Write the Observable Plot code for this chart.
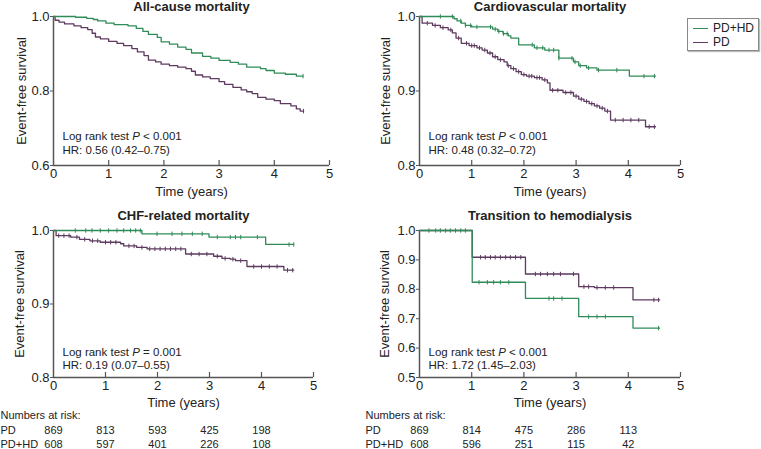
<!DOCTYPE html>
<html><head><meta charset="utf-8">
<script src="https://cdn.jsdelivr.net/npm/d3@7"></script>
<script src="https://cdn.jsdelivr.net/npm/@observablehq/plot@0.6"></script>
<style>
body{margin:0;background:#fff;font-family:"Liberation Sans",Arial,sans-serif;}
#wrap{position:relative;width:761px;height:449px;overflow:hidden;background:#fff;}
.panel{position:absolute;}
#legend{position:absolute;left:687px;top:18px;width:70px;height:31px;border:1px solid #888;box-shadow:1px 1px 1px #bbb;background:#fff;font-size:12px;color:#222;}
#legend .item{position:absolute;left:5px;height:14px;line-height:14px;}
#legend .sw{position:absolute;left:0;top:7px;width:15px;height:0;border-top:1.3px solid;}
#legend .lb{position:absolute;left:20px;top:0;white-space:nowrap;}
</style></head><body><div id="wrap"></div>
<script>
// ---------------- data ----------------
const xTicks = [0, 1, 2, 3, 4, 5];
const riskTimes = [0, 1, 2, 3, 4];
const seriesNames = ["PD+HD", "PD"];

// All-cause mortality
const acGreenT = [0, 0.4, 0.6, 0.72, 0.8, 0.95, 1.1, 1.35, 1.5, 1.62, 1.72, 1.88, 1.95, 2.1, 2.25, 2.4, 2.5, 2.7, 2.85, 3.0, 3.2, 3.35, 3.5, 3.75, 3.85, 4.0, 4.2, 4.4, 4.52];
const acGreenS = [1.0, 0.998, 0.995, 0.992, 0.988, 0.982, 0.978, 0.975, 0.968, 0.96, 0.952, 0.944, 0.932, 0.926, 0.918, 0.912, 0.902, 0.893, 0.888, 0.882, 0.877, 0.872, 0.864, 0.86, 0.855, 0.848, 0.845, 0.84, 0.84];
const acGreenC = [4.52];
const acPurpleT = [0, 0.03, 0.1, 0.2, 0.37, 0.5, 0.62, 0.7, 0.76, 0.85, 1.0, 1.15, 1.27, 1.42, 1.52, 1.64, 1.72, 1.85, 1.95, 2.1, 2.25, 2.4, 2.5, 2.57, 2.7, 2.84, 3.0, 3.1, 3.25, 3.4, 3.5, 3.6, 3.7, 3.85, 4.0, 4.11, 4.3, 4.4, 4.47, 4.53];
const acPurpleS = [1.0, 0.99, 0.985, 0.98, 0.975, 0.97, 0.965, 0.955, 0.945, 0.94, 0.933, 0.928, 0.922, 0.914, 0.905, 0.895, 0.883, 0.878, 0.872, 0.868, 0.864, 0.86, 0.853, 0.843, 0.838, 0.833, 0.825, 0.818, 0.81, 0.803, 0.798, 0.793, 0.783, 0.778, 0.774, 0.766, 0.76, 0.752, 0.746, 0.746];
const acPurpleC = [4.53];

// Cardiovascular mortality
const cvGreenT = [0, 0.66, 0.72, 0.8, 0.88, 1.0, 1.4, 1.5, 1.6, 1.7, 1.75, 1.9, 2.2, 2.4, 2.67, 2.95, 3.05, 3.2, 3.4, 4.02, 4.52];
const cvGreenS = [1.0, 0.997, 0.994, 0.991, 0.988, 0.986, 0.983, 0.98, 0.977, 0.974, 0.971, 0.962, 0.958, 0.955, 0.944, 0.939, 0.934, 0.931, 0.928, 0.92, 0.92];
const cvGreenC = [0.4, 0.63, 0.79, 0.88, 0.98, 1.1, 1.36, 1.45, 1.52, 1.61, 1.68, 2.16, 2.25, 2.36, 2.48, 2.57, 2.67, 2.92, 2.98, 3.08, 3.24, 3.43, 3.78, 4.3, 4.5];
const cvPurpleT = [0, 0.05, 0.25, 0.4, 0.55, 0.63, 0.7, 0.8, 0.95, 1.1, 1.2, 1.3, 1.4, 1.5, 1.62, 1.68, 1.75, 1.85, 1.95, 2.05, 2.2, 2.35, 2.45, 2.5, 2.75, 2.95, 3.05, 3.15, 3.25, 3.35, 3.45, 3.55, 3.66, 4.33, 4.52];
const cvPurpleS = [1.0, 0.991, 0.988, 0.985, 0.982, 0.978, 0.971, 0.964, 0.961, 0.958, 0.955, 0.951, 0.946, 0.942, 0.939, 0.934, 0.93, 0.926, 0.922, 0.92, 0.918, 0.915, 0.911, 0.901, 0.898, 0.893, 0.889, 0.886, 0.883, 0.88, 0.877, 0.873, 0.861, 0.852, 0.852];
const cvPurpleC = [0.15, 0.3, 0.45, 0.6, 0.75, 0.9, 1.0, 1.05, 1.15, 1.25, 1.35, 1.45, 1.55, 1.7, 1.8, 1.9, 2.0, 2.1, 2.15, 2.25, 2.3, 2.4, 2.55, 2.65, 2.8, 2.9, 3.0, 3.1, 3.2, 3.3, 3.4, 3.5, 3.6, 3.75, 3.9, 4.05, 4.2, 4.4, 4.5];

// CHF-related mortality
const chfGreenT = [0, 1.7, 2.99, 4.08, 4.62];
const chfGreenS = [1.0, 0.9955, 0.991, 0.981, 0.981];
const chfGreenC = [0.42, 0.62, 0.74, 0.9, 1.06, 1.22, 1.35, 1.48, 1.58, 1.67, 1.99, 2.28, 2.47, 2.67, 2.86, 3.15, 3.4, 3.5, 3.6, 3.92, 4.53, 4.62];
const chfPurpleT = [0, 0.05, 0.33, 0.5, 0.7, 0.9, 1.29, 1.35, 1.6, 1.8, 2.54, 3.08, 3.24, 3.4, 3.5, 3.72, 4.43, 4.62];
const chfPurpleS = [1.0, 0.993, 0.991, 0.988, 0.986, 0.984, 0.982, 0.979, 0.977, 0.975, 0.968, 0.965, 0.962, 0.961, 0.959, 0.951, 0.946, 0.946];
const chfPurpleC = [0.1, 0.2, 0.3, 0.45, 0.6, 0.75, 0.85, 1.0, 1.1, 1.2, 1.45, 1.55, 1.7, 1.85, 1.95, 2.05, 2.15, 2.25, 2.35, 2.45, 2.65, 2.8, 2.95, 3.15, 3.3, 3.45, 3.6, 3.85, 4.0, 4.15, 4.3, 4.5, 4.6];

// Transition to hemodialysis
const hdGreenT = [0, 1.01, 2.03, 3.05, 4.09, 4.6];
const hdGreenS = [1.0, 0.824, 0.769, 0.707, 0.668, 0.668];
const hdGreenC = [0.18, 0.31, 0.4, 0.5, 0.59, 0.69, 0.79, 0.88, 1.14, 1.3, 1.42, 1.55, 1.71, 2.48, 2.57, 2.73, 3.24, 3.4, 3.56, 4.58];
const hdPurpleT = [0, 1.01, 2.03, 3.05, 3.35, 4.09, 4.6];
const hdPurpleS = [1.0, 0.909, 0.852, 0.809, 0.806, 0.764, 0.764];
const hdPurpleC = [1.17, 1.26, 1.36, 1.45, 1.55, 1.65, 1.74, 1.84, 1.94, 2.22, 2.32, 2.45, 2.57, 2.7, 2.95, 3.15, 3.24, 3.4, 3.56, 3.72, 4.49, 4.58];

// Numbers at risk
const riskPD_left = [869, 813, 593, 425, 198];
const riskPDHD_left = [608, 597, 401, 226, 108];
const riskPD_right = [869, 814, 475, 286, 113];
const riskPDHD_right = [608, 596, 251, 115, 42];

// ---------------- drawing ----------------
const GREEN = "#2f8c58", PURPLE = "#5e3a60", AXIS = "#555", TEXTC = "#222";
const FONT = '"Liberation Sans", Arial, sans-serif';

function steps(t, s) { return t.map((d, i) => ({t: d, s: s[i]})); }
function survAt(t, s, x) { let v = s[0]; for (let i = 0; i < t.length; i++) { if (t[i] <= x) v = s[i]; else break; } return v; }
function censorPts(t, s, c) { return c.map(x => ({t: x, s: survAt(t, s, x)})); }
const tickSym = { draw(ctx, size) { const r = Math.sqrt(size / Math.PI); ctx.moveTo(0, -r); ctx.lineTo(0, r); } };

function panel(cfg) {
  const iH = cfg.height - cfg.mT - cfg.mB;
  const T = (txt, o) => Plot.text([txt], {lineAnchor: "middle", fill: TEXTC, ...o});
  const marks = [
    Plot.ruleX([0], {stroke: AXIS, strokeWidth: 1.5}),
    Plot.ruleY([cfg.yDomain[0]], {stroke: AXIS, strokeWidth: 1.5}),
    Plot.ruleX(xTicks.slice(1), {x: d => d, stroke: AXIS, strokeWidth: 1.2, insetTop: iH - 5}),
    Plot.axisX(xTicks, {tickSize: 0, tickPadding: 3, label: null, fontSize: 13, fill: TEXTC}),
    Plot.axisY(cfg.yTicks, {tickSize: 3, tickPadding: 1, stroke: AXIS, label: null, tickFormat: d => d.toFixed(1), fontSize: 13, fill: TEXTC}),
    T(cfg.title, {frameAnchor: "top", dy: cfg.titleDy, fontWeight: "bold", fontSize: 13}),
    T("Time (years)", {frameAnchor: "bottom", dy: cfg.xLabelDy, fontSize: 13}),
    T("Event-free survival", {frameAnchor: "left", dx: cfg.yLabelDx, rotate: -90, textAnchor: "middle", fontSize: 13}),
    T(cfg.logrank, {frameAnchor: "bottom-left", dx: 9, dy: cfg.ann1Dy, textAnchor: "start", fontSize: 11.5}),
    T(cfg.hr, {frameAnchor: "bottom-left", dx: 9, dy: cfg.ann2Dy, textAnchor: "start", fontSize: 11.5}),
    Plot.line(steps(cfg.pT, cfg.pS), {x: "t", y: "s", curve: "step-after", stroke: PURPLE, strokeWidth: 1.3}),
    Plot.dot(censorPts(cfg.pT, cfg.pS, cfg.pC), {x: "t", y: "s", symbol: tickSym, r: 2.2, stroke: PURPLE, strokeWidth: 1, fill: "none"}),
    Plot.line(steps(cfg.gT, cfg.gS), {x: "t", y: "s", curve: "step-after", stroke: GREEN, strokeWidth: 1.3}),
    Plot.dot(censorPts(cfg.gT, cfg.gS, cfg.gC), {x: "t", y: "s", symbol: tickSym, r: 2.2, stroke: GREEN, strokeWidth: 1, fill: "none"})
  ];
  if (cfg.riskPD) {
    marks.push(
      T("Numbers at risk:", {frameAnchor: "bottom-left", dx: cfg.riskDx, dy: 38, textAnchor: "start", fontSize: 11}),
      T(seriesNames[1], {frameAnchor: "bottom-left", dx: cfg.riskDx, dy: 53, textAnchor: "start", fontSize: 11}),
      T(seriesNames[0], {frameAnchor: "bottom-left", dx: cfg.riskDx, dy: 67, textAnchor: "start", fontSize: 11}),
      Plot.text(cfg.riskPD, {x: (d, i) => riskTimes[i], text: d => String(d), frameAnchor: "bottom", lineAnchor: "middle", dy: 53, fontSize: 11, fill: TEXTC}),
      Plot.text(cfg.riskPDHD, {x: (d, i) => riskTimes[i], text: d => String(d), frameAnchor: "bottom", lineAnchor: "middle", dy: 67, fontSize: 11, fill: TEXTC})
    );
  }
  const svg = Plot.plot({
    width: cfg.width, height: cfg.height,
    marginLeft: cfg.mL, marginRight: cfg.mR, marginTop: cfg.mT, marginBottom: cfg.mB,
    style: {fontFamily: FONT, fontSize: "13px", color: TEXTC, background: "transparent", overflow: "visible"},
    x: {domain: [0, 5]},
    y: {domain: cfg.yDomain},
    marks
  });
  // italic P in log-rank text
  svg.querySelectorAll("text").forEach(el => {
    const m = el.textContent.match(/^(Log rank test )P( .*)$/);
    if (m && el.children.length === 0) {
      el.textContent = "";
      const ns = "http://www.w3.org/2000/svg";
      const a = document.createElementNS(ns, "tspan"); a.textContent = m[1];
      const b = document.createElementNS(ns, "tspan"); b.textContent = "P"; b.setAttribute("font-style", "italic");
      const c = document.createElementNS(ns, "tspan"); c.textContent = m[2];
      el.append(a, b, c);
    }
  });
  const div = document.createElement("div");
  div.className = "panel";
  div.style.left = cfg.left + "px";
  div.style.top = cfg.top + "px";
  div.appendChild(svg);
  document.getElementById("wrap").appendChild(div);
}

panel({left: 0, top: 0, width: 380, height: 200, mL: 53, mR: 51, mT: 16, mB: 35,
  yDomain: [0.6, 1.0], yTicks: [0.6, 0.8, 1.0], title: "All-cause mortality", titleDy: -10,
  xLabelDy: 26, yLabelDx: -32, ann1Dy: -29, ann2Dy: -15,
  logrank: "Log rank test P < 0.001", hr: "HR: 0.56 (0.42–0.75)",
  gT: acGreenT, gS: acGreenS, gC: acGreenC, pT: acPurpleT, pS: acPurpleS, pC: acPurpleC});

panel({left: 380, top: 0, width: 381, height: 200, mL: 39, mR: 81, mT: 16, mB: 35,
  yDomain: [0.8, 1.0], yTicks: [0.8, 0.9, 1.0], title: "Cardiovascular mortality", titleDy: -10,
  xLabelDy: 26, yLabelDx: -34, ann1Dy: -29, ann2Dy: -15,
  logrank: "Log rank test P < 0.001", hr: "HR: 0.48 (0.32–0.72)",
  gT: cvGreenT, gS: cvGreenS, gC: cvGreenC, pT: cvPurpleT, pS: cvPurpleS, pC: cvPurpleC});

panel({left: 0, top: 200, width: 380, height: 249, mL: 53, mR: 67, mT: 30, mB: 72,
  yDomain: [0.8, 1.0], yTicks: [0.8, 0.9, 1.0], title: "CHF-related mortality", titleDy: -15,
  xLabelDy: 25, yLabelDx: -34, ann1Dy: -25, ann2Dy: -12,
  logrank: "Log rank test P = 0.001", hr: "HR: 0.19 (0.07–0.55)",
  gT: chfGreenT, gS: chfGreenS, gC: chfGreenC, pT: chfPurpleT, pS: chfPurpleS, pC: chfPurpleC,
  riskPD: riskPD_left, riskPDHD: riskPDHD_left, riskDx: -53});

panel({left: 380, top: 200, width: 381, height: 249, mL: 39, mR: 81, mT: 30, mB: 72,
  yDomain: [0.5, 1.0], yTicks: [0.5, 0.6, 0.7, 0.8, 0.9, 1.0], title: "Transition to hemodialysis", titleDy: -15,
  xLabelDy: 25, yLabelDx: -35, ann1Dy: -25, ann2Dy: -12,
  logrank: "Log rank test P < 0.001", hr: "HR: 1.72 (1.45–2.03)",
  gT: hdGreenT, gS: hdGreenS, gC: hdGreenC, pT: hdPurpleT, pS: hdPurpleS, pC: hdPurpleC,
  riskPD: riskPD_right, riskPDHD: riskPDHD_right, riskDx: -54});

// legend
const legend = document.createElement("div");
legend.id = "legend";
[[seriesNames[0], GREEN, 2], [seriesNames[1], PURPLE, 16]].forEach(([name, col, top]) => {
  const it = document.createElement("div");
  it.className = "item"; it.style.top = top + "px";
  const sw = document.createElement("span"); sw.className = "sw"; sw.style.borderTopColor = col;
  const lb = document.createElement("span"); lb.className = "lb"; lb.textContent = name;
  it.append(sw, lb);
  legend.appendChild(it);
});
document.getElementById("wrap").appendChild(legend);
</script></body></html>
